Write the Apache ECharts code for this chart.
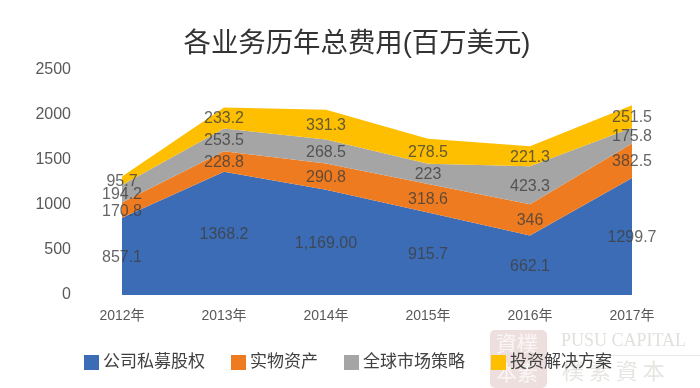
<!DOCTYPE html>
<html>
<head>
<meta charset="utf-8">
<script src="https://cdn.jsdelivr.net/npm/echarts@6/dist/echarts.min.js"></script>
<style>html,body{margin:0;padding:0;background:#fff}#c{width:700px;height:388px}</style>
</head>
<body>
<div id="c"></div>
<script>
const years = ['2012年','2013年','2014年','2015年','2016年','2017年'];
const names = ['公司私募股权','实物资产','全球市场策略','投资解决方案'];
const privateEquity = [857.1,1368.2,1169.0,915.7,662.1,1299.7];
const realAssets = [170.8,228.8,290.8,318.6,346,382.5];
const globalMarkets = [194.2,253.5,268.5,223,423.3,175.8];
const solutions = [95.7,233.2,331.3,278.5,221.3,251.5];
const privateEquityText = ['857.1','1368.2','1,169.00','915.7','662.1','1299.7'];
const realAssetsText = ['170.8','228.8','290.8','318.6','346','382.5'];
const globalMarketsText = ['194.2','253.5','268.5','223','423.3','175.8'];
const solutionsText = ['95.7','233.2','331.3','278.5','221.3','251.5'];
const colors = ['#3b6cb5','#ee7b1f','#a5a5a5','#fdbf00'];

const FONT = '"Liberation Sans","Noto Sans CJK SC",sans-serif';
const bands = [privateEquity, realAssets, globalMarkets, solutions];
const texts = [privateEquityText, realAssetsText, globalMarketsText, solutionsText];

const areaSeries = bands.map((d, k) => ({
  name: names[k], type: 'line', stack: 'total', data: d,
  symbol: 'none', silent: true,
  lineStyle: {width: 0},
  itemStyle: {color: colors[k]},
  areaStyle: {color: colors[k], opacity: 1},
  z: 2
}));

// Value labels sit at the middle of each band; positions come from the data.
const labelSeries = bands.map((d, k) => ({
  type: 'scatter', symbolSize: 0, silent: true, z: 5,
  data: d.map((v, i) => {
    let below = 0;
    for (let j = 0; j < k; j++) below += bands[j][i];
    return {
      value: [i, below + v / 2],
      label: {formatter: texts[k][i]}
    };
  }),
  label: {show: true, position: 'inside', fontFamily: FONT, fontSize: 16, color: '#3f3f3f', offset: [0, 1]}
}));

const chart = echarts.init(document.getElementById('c'), null, {renderer: 'canvas'});
chart.setOption({
  animation: false,
  backgroundColor: '#fff',
  title: {
    text: '各业务历年总费用(百万美元)', left: 357, top: 31, padding: 0, textAlign: 'center',
    textStyle: {fontFamily: FONT, fontSize: 27.4, fontWeight: 'normal', color: '#333'}
  },
  legend: {
    data: names, left: 84, top: 354, padding: 0, itemWidth: 15, itemHeight: 15, itemGap: 26,
    icon: 'rect',
    textStyle: {fontFamily: FONT, fontSize: 17, color: '#404040', padding: [0,0,0,-1]}
  },
  grid: {left: 122, right: 68, top: 70, bottom: 93},
  xAxis: {
    type: 'category', data: years, boundaryGap: false,
    axisLine: {show: false}, axisTick: {show: false},
    axisLabel: {fontFamily: FONT, fontSize: 14, color: '#595959', margin: 14, interval: 0, hideOverlap: false}
  },
  yAxis: {
    type: 'value', min: 0, max: 2500, interval: 500,
    axisLine: {show: false}, axisTick: {show: false}, splitLine: {show: false},
    axisLabel: {fontFamily: FONT, fontSize: 16, color: '#595959', margin: 51, padding: [0,0,6,0], formatter: v => String(v)}
  },
  series: areaSeries.concat(labelSeries),
  graphic: [
    {type: 'rect', z: -1, shape: {x: 490, y: 330, width: 57, height: 58, r: 5}, style: {fill: '#eedfdf'}},
    {type: 'text', z: -1, x: 496, y: 333, style: {text: '資樸', fill: '#fbf6f6', font: '21px "Noto Sans CJK TC"'}},
    {type: 'text', z: -1, x: 496, y: 362, style: {text: '本素', fill: '#fbf6f6', font: '21px "Noto Sans CJK TC"'}},
    {type: 'text', z: -1, x: 561, y: 332, style: {text: 'PUSU CAPITAL', fill: '#e0e0dc', font: '18px "Liberation Serif"'}},
    {type: 'rect', z: -1, shape: {x: 561, y: 355, width: 139, height: 1}, style: {fill: '#e8e8e4'}},
    {type: 'text', z: -1, x: 562, y: 360, style: {text: '樸 素 資 本', fill: '#e6e5e1', font: '22px "Noto Sans CJK TC"'}}
  ]
});
</script>
</body>
</html>
